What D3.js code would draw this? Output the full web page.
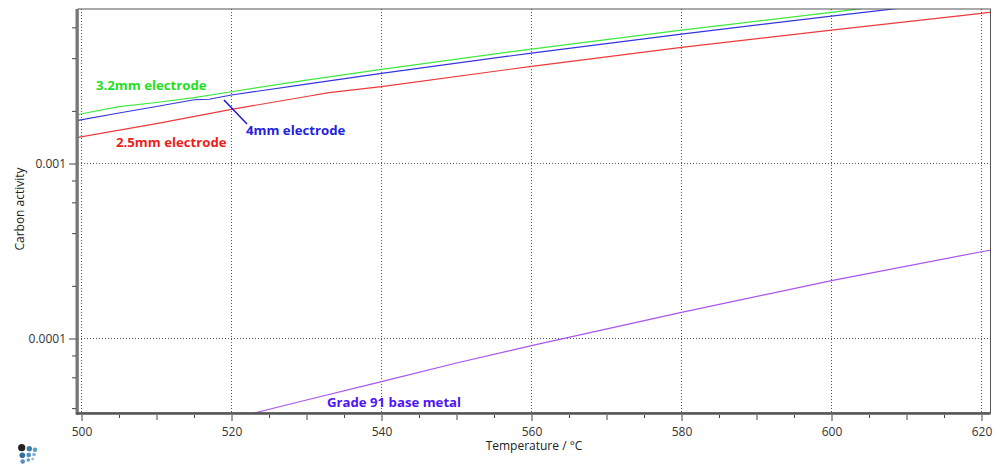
<!DOCTYPE html>
<html>
<head>
<meta charset="utf-8">
<script src="https://cdn.jsdelivr.net/npm/d3@7"></script>
<style>
    body { margin: 0; background: #fff; }
    text { font-family: "Open Sans", sans-serif; }
</style>
</head>
<body>
<script>
// temperature (C) and carbon activity
var tempGreen = [499.5, 505, 510, 515, 520, 530, 540, 560, 580, 600, 610];
var valGreen = [0.001905, 0.002112, 0.002232, 0.002383, 0.002572, 0.003, 0.003454, 0.004511, 0.005793, 0.007311, 0.00826];

var tempBlue = [499.5, 505, 510, 515, 517, 520, 530, 540, 560, 580, 600, 610];
var valBlue = [0.001763, 0.001944, 0.002117, 0.002315, 0.00233, 0.002463, 0.002846, 0.003276, 0.004279, 0.005495, 0.006964, 0.007798];

var tempRed = [499.5, 510, 520, 530, 533, 540, 560, 580, 600, 620, 622];
var valRed = [0.001408, 0.001692, 0.00204, 0.002415, 0.002545, 0.002748, 0.003594, 0.004613, 0.005793, 0.007216, 0.00739];

var tempBase = [523, 530, 540, 550, 560, 580, 600, 620, 622];
var valBase = [0.00003752, 0.00004453, 0.00005666, 0.00007244, 0.00009096, 0.0001411, 0.000214, 0.0003133, 0.000324];

// axis ticks
var xMajor = [500, 520, 540, 560, 580, 600, 620];
var xMid = [510, 530, 550, 570, 590, 610];
var xMinor = [505, 515, 525, 535, 545, 555, 565, 575, 585, 595, 605, 615];
var yMajor = [0.001, 0.0001];
var yMinor = [0.006, 0.004, 0.002, 0.0008, 0.0006, 0.0004, 0.0002, 0.00008, 0.00006, 0.00004];

var margin = {top: 9, right: 9.5, bottom: 52, left: 78};
var w = 1000 - margin.left - margin.right;
var h = 465 - margin.top - margin.bottom;

var xScale = d3.scaleLinear()
    .domain([499.53, 621.2])
    .range([0, w]);

var yScale = d3.scaleLog()
    .domain([0.00003752, 0.00764])
    .range([h, 0]);

var svg = d3.select("body")
    .append("svg")
    .attr("width", 1000)
    .attr("height", 465)
    .style("display", "block");

var g = svg.append("g")
    .attr("transform", "translate(" + margin.left + "," + margin.top + ")");

g.append("clipPath")
    .attr("id", "plot")
    .append("rect")
    .attr("width", w)
    .attr("height", h);

// dotted grid
g.selectAll(".gridx")
    .data(xMajor)
    .enter()
    .append("line")
    .attr("x1", function(d) { return xScale(d); })
    .attr("x2", function(d) { return xScale(d); })
    .attr("y1", 0)
    .attr("y2", h)
    .attr("stroke", "#555")
    .attr("stroke-dasharray", "1,2");

g.selectAll(".gridy")
    .data(yMajor)
    .enter()
    .append("line")
    .attr("x1", 0)
    .attr("x2", w)
    .attr("y1", function(d) { return yScale(d); })
    .attr("y2", function(d) { return yScale(d); })
    .attr("stroke", "#555")
    .attr("stroke-dasharray", "1,2");

// curves
var line = d3.line()
    .x(function(d) { return xScale(d[0]); })
    .y(function(d) { return yScale(d[1]); });

function drawCurve(temps, vals, color) {
    g.append("path")
        .datum(d3.zip(temps, vals))
        .attr("clip-path", "url(#plot)")
        .attr("fill", "none")
        .attr("stroke", color)
        .attr("stroke-width", 1.2)
        .attr("d", line);
}

drawCurve(tempGreen, valGreen, "#3fe83f");
drawCurve(tempBlue, valBlue, "#3535dc");
drawCurve(tempRed, valRed, "#ee3a3a");
drawCurve(tempBase, valBase, "#a855ee");

// plot frame, the left and bottom edges are heavier
g.append("rect")
    .attr("width", w)
    .attr("height", h)
    .attr("fill", "none")
    .attr("stroke", "#555")
    .attr("stroke-width", 1);

g.append("line")
    .attr("x1", -1).attr("x2", -1)
    .attr("y1", 0).attr("y2", h + 1.5)
    .attr("stroke", "#777")
    .attr("stroke-width", 3);

g.append("line")
    .attr("x1", -2).attr("x2", w)
    .attr("y1", h + 0.5).attr("y2", h + 0.5)
    .attr("stroke", "#555")
    .attr("stroke-width", 2.5);

// axes
function tickStyle(sel) {
    sel.select(".domain").remove();
    sel.selectAll("line").attr("stroke", "#444");
    sel.selectAll("text")
        .attr("fill", "#333")
        .style("font-size", "12px");
}

var xAxisG = g.append("g").attr("transform", "translate(0," + (h + 2) + ")");
xAxisG.append("g").call(d3.axisBottom(xScale).tickValues(xMinor).tickSize(3).tickFormat("")).call(tickStyle);
xAxisG.append("g").call(d3.axisBottom(xScale).tickValues(xMid).tickSize(5).tickFormat("")).call(tickStyle);
xAxisG.append("g").call(d3.axisBottom(xScale).tickValues(xMajor).tickSize(6).tickPadding(6).tickFormat(d3.format("d"))).call(tickStyle);

var yAxisG = g.append("g").attr("transform", "translate(-2,0)");
yAxisG.append("g").call(d3.axisLeft(yScale).tickValues(yMinor).tickSize(4).tickFormat("")).call(tickStyle);
yAxisG.append("g").call(d3.axisLeft(yScale).tickValues(yMajor).tickSize(7).tickPadding(3).tickFormat(function(d) { return String(d); })).call(tickStyle);

// axis titles
svg.append("text")
    .attr("x", 534)
    .attr("y", 450)
    .attr("text-anchor", "middle")
    .attr("fill", "#222")
    .style("font-size", "12px")
    .text("Temperature / °C");

svg.append("text")
    .attr("transform", "translate(24,209) rotate(-90)")
    .attr("text-anchor", "middle")
    .attr("fill", "#222")
    .style("font-size", "12px")
    .text("Carbon activity");

// curve labels
function curveLabel(x, y, color, txt) {
    svg.append("text")
        .attr("x", x)
        .attr("y", y)
        .attr("fill", color)
        .style("font-size", "13.2px")
        .style("font-weight", "700")
        .text(txt);
}

curveLabel(96, 90, "#1fe01f", "3.2mm electrode");
curveLabel(116, 147, "#ee1c1c", "2.5mm electrode");
curveLabel(246, 135, "#2222e0", "4mm electrode");
curveLabel(327, 407, "#4f14f5", "Grade 91 base metal");

// leader from the 4mm label up to its curve
svg.append("line")
    .attr("x1", 224)
    .attr("y1", 100)
    .attr("x2", 247)
    .attr("y2", 124)
    .attr("stroke", "#1a1ad0")
    .attr("stroke-width", 1.5);

// small logo bottom left
var logoDots = [[21.7, 447.7, 3.6, "#222"], [29.3, 448.7, 2.7, "#3d7fae"], [35, 449.7, 2.2, "#5a9ac6"],
    [22.3, 455.3, 2.8, "#2f6f9f"], [28.7, 455, 2.3, "#4a8cba"], [34, 454.5, 1.8, "#7db0d4"],
    [22.7, 461.5, 2.3, "#5a8fb5"], [28.3, 460, 1.8, "#5f9cc6"], [32.7, 459, 1.4, "#94c0dd"]];

svg.append("g")
    .selectAll("circle")
    .data(logoDots)
    .enter()
    .append("circle")
    .attr("cx", function(d) { return d[0]; })
    .attr("cy", function(d) { return d[1]; })
    .attr("r", function(d) { return d[2]; })
    .attr("fill", function(d) { return d[3]; });
</script>
</body>
</html>
